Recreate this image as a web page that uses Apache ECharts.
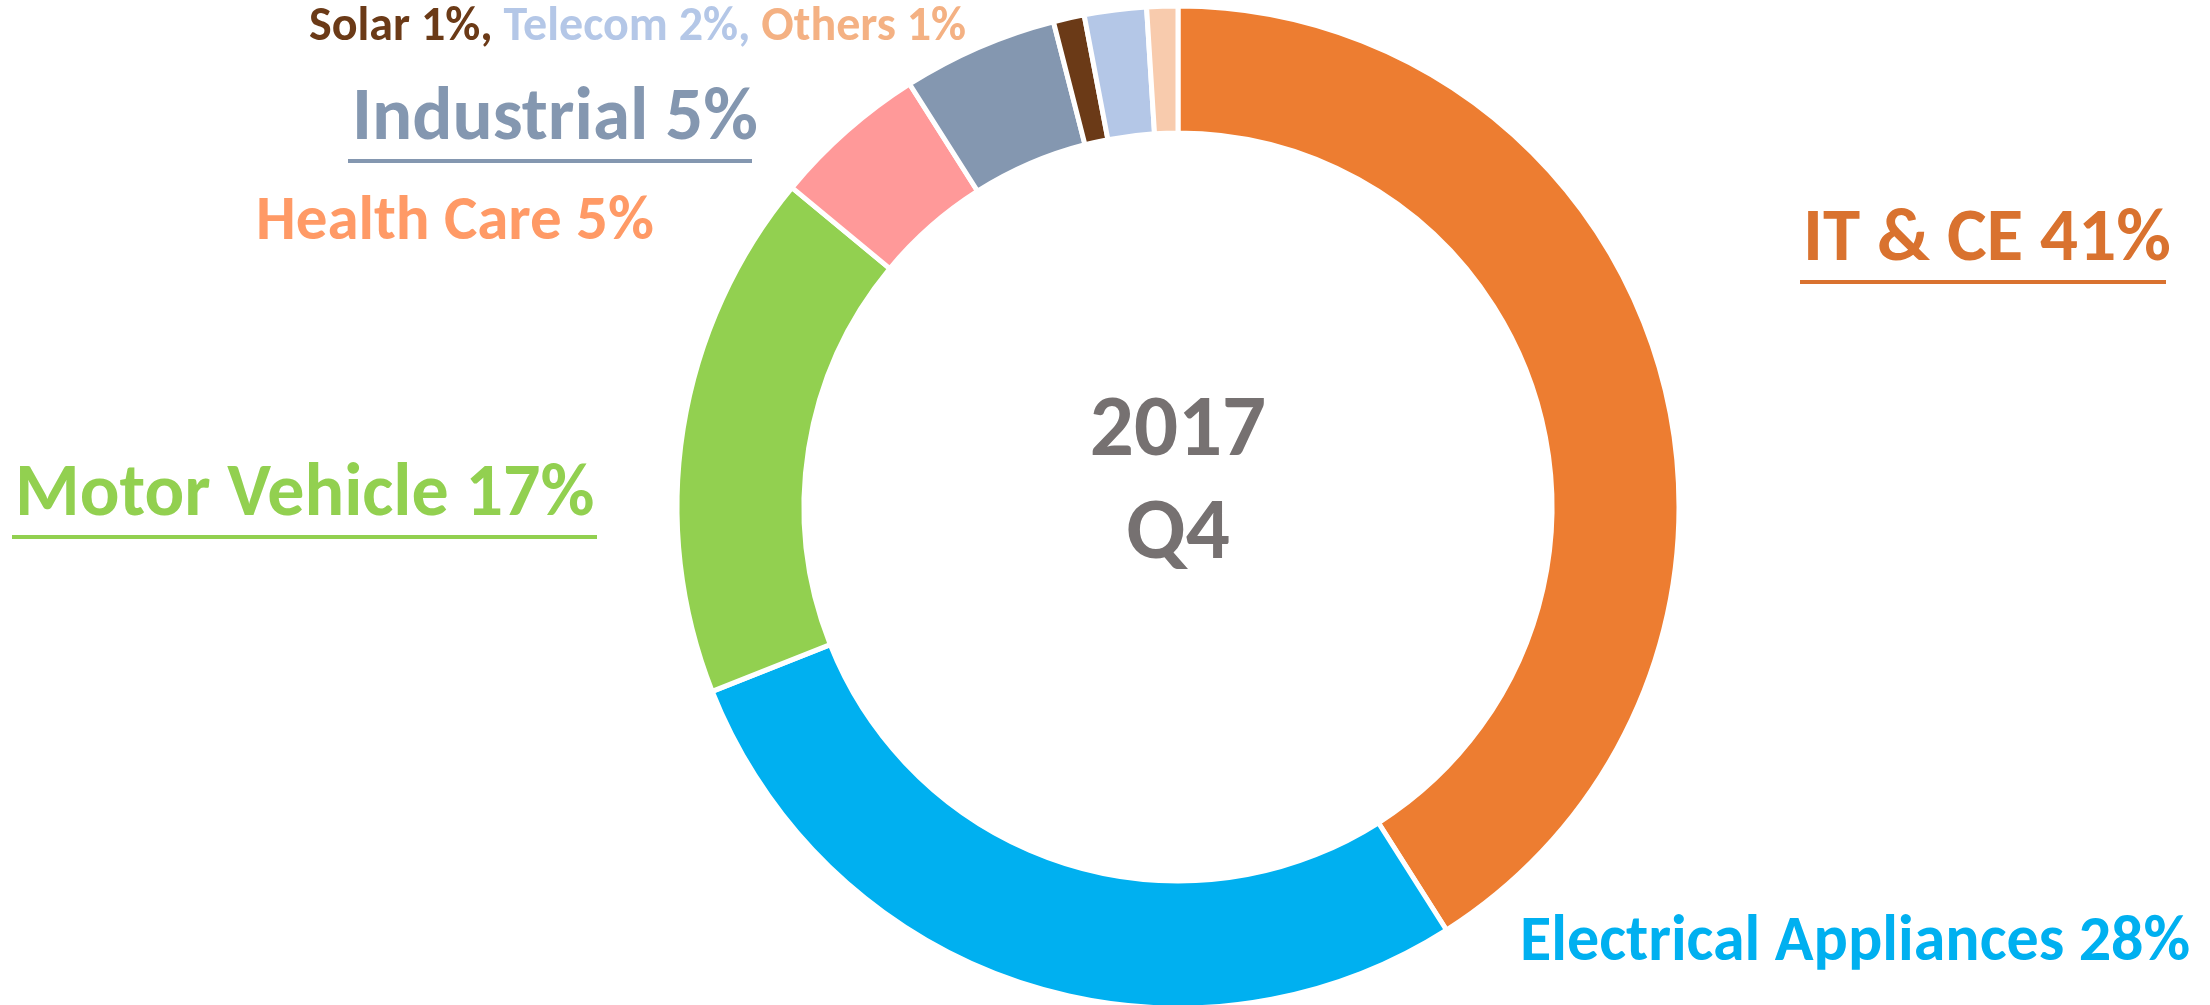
<!DOCTYPE html>
<html>
<head>
<meta charset="utf-8">
<title>2017 Q4</title>
<script src="https://cdn.jsdelivr.net/npm/echarts@6/dist/echarts.min.js"></script>
<style>
  html, body {margin: 0; padding: 0; background: #fff;}
  #main {width: 2210px; height: 1005px;}
</style>
</head>
<body>
<div id="main"></div>
<script>
// 分类 / 占比(%)
const categories = ['IT & CE', 'Electrical Appliances', 'Motor Vehicle', 'Health Care', 'Industrial', 'Solar', 'Telecom', 'Others'];
const shares = [41, 28, 17, 5, 5, 1, 2, 1];
const centerTitle = ['2017', 'Q4'];

const sliceColors = ['#ED7D31', '#00B0F0', '#92D050', '#FF9999', '#8497B0', '#6B3A17', '#B4C7E7', '#F8CBAD'];
const textColors = ['#D9722F', '#00B0F0', '#92D050', '#FF9A66', '#8497B0', '#6B3A17', '#B4C7E7', '#F4B183'];

const FONT = 'Carlito, Calibri, Lato, sans-serif';

// where each label sits: left x, middle y, font size, underline [x1, x2, y]
const labelPos = {
  'IT & CE': {x: 1803, y: 241, size: 75, line: [1800, 2166, 282]},
  'Electrical Appliances': {x: 1520, y: 944, size: 64},
  'Motor Vehicle': {x: 15, y: 496, size: 74, line: [12, 597, 537]},
  'Health Care': {x: 256, y: 223, size: 63},
  'Industrial': {x: 352, y: 120, size: 75, line: [348, 752, 161]},
  'Solar': {x: 309, y: 28, size: 48}
};

let chart = echarts.init(document.getElementById('main'));

let data = categories.map((name, i) => {
  let pos = labelPos[name];
  let item = {
    name: name,
    value: shares[i],
    itemStyle: {color: sliceColors[i]},
    label: {show: false},
    labelLine: {show: false}
  };
  if (pos) {
    item.label = {
      show: true,
      color: textColors[i],
      fontSize: pos.size,
      fontWeight: 'bold',
      fontFamily: FONT,
      formatter: '{b} {c}%'
    };
    if (pos.line) {
      item.labelLine = {show: true, lineStyle: {color: textColors[i], width: 4}};
    }
  }
  return item;
});

// Solar, Telecom and Others share one line of text
let s = categories.indexOf('Solar'), t = categories.indexOf('Telecom'), o = categories.indexOf('Others');
let smallSize = labelPos['Solar'].size;
data[s].label.formatter = '{s|Solar ' + shares[s] + '%,} {t|Telecom ' + shares[t] + '%,} {o|Others ' + shares[o] + '%}';
data[s].label.rich = {
  s: {color: textColors[s], fontSize: smallSize, fontWeight: 'bold', fontFamily: FONT},
  t: {color: textColors[t], fontSize: smallSize, fontWeight: 'bold', fontFamily: FONT},
  o: {color: textColors[o], fontSize: smallSize, fontWeight: 'bold', fontFamily: FONT}
};

let option = {
  backgroundColor: '#fff',
  animation: false,
  graphic: [
    {
      type: 'text', x: 1178, y: 433,
      style: {text: centerTitle[0], fontSize: 87, fontWeight: 'bold', fontFamily: FONT, fill: '#767171', align: 'center', verticalAlign: 'middle'}
    },
    {
      type: 'text', x: 1178, y: 536,
      style: {text: centerTitle[1], fontSize: 87, fontWeight: 'bold', fontFamily: FONT, fill: '#767171', align: 'center', verticalAlign: 'middle'}
    }
  ],
  series: [
    {
      type: 'pie',
      center: [1178, 507],
      radius: [374, 501],
      startAngle: 90,
      clockwise: true,
      avoidLabelOverlap: false,
      emphasis: {disabled: true},
      itemStyle: {borderColor: '#fff', borderWidth: 5},
      label: {position: 'outside'},
      labelLayout: function (params) {
        let pos = labelPos[categories[params.dataIndex]];
        if (!pos) return {};
        let res = {x: pos.x, y: pos.y, align: 'left', verticalAlign: 'middle'};
        if (pos.line) {
          res.labelLinePoints = [[pos.line[0], pos.line[2]], [pos.line[1], pos.line[2]], [pos.line[1], pos.line[2]]];
        }
        return res;
      },
      data: data
    }
  ]
};
chart.setOption(option);
</script>
</body>
</html>
